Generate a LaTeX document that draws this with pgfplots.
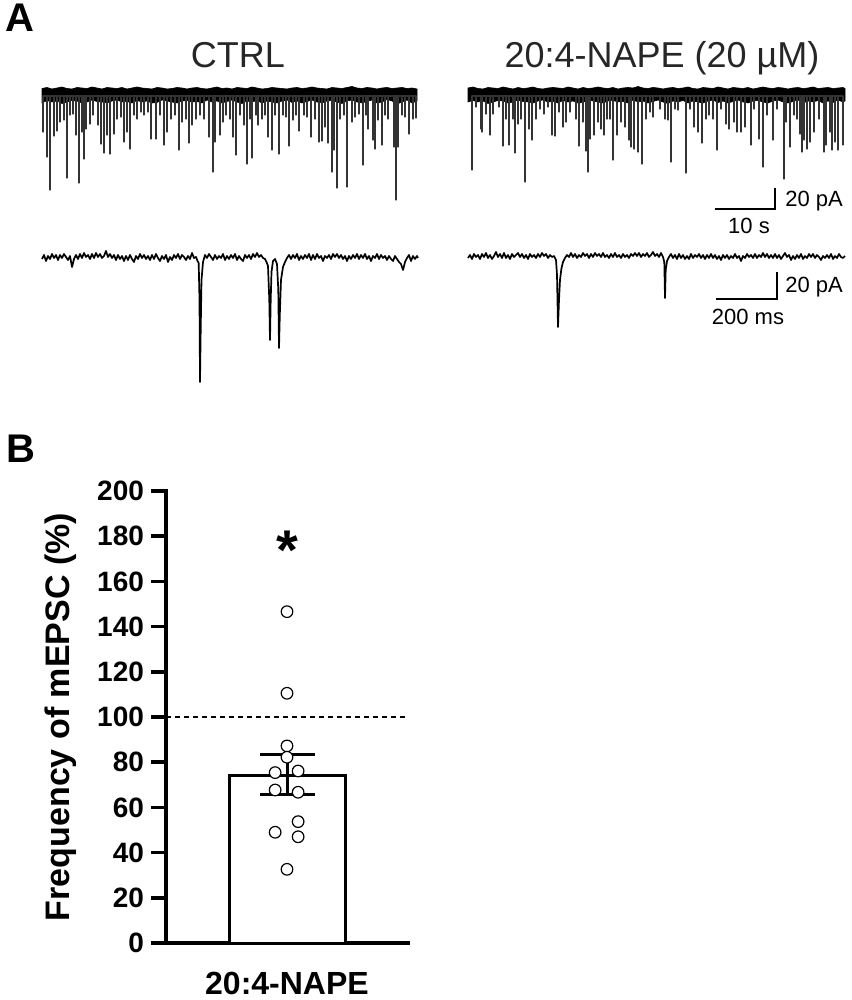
\documentclass[border=0pt]{standalone}
\usepackage{pgfplots}
\pgfplotsset{compat=1.18}
\usepackage{fontspec}
\setmainfont{Liberation Sans}
\begin{document}
\begin{tikzpicture}
\path[use as bounding box] (0pt,0pt) rectangle (425.5pt,500pt);
% ---------------- Panel A (pixel coordinates) ----------------
\begin{axis}[at={(0pt,0pt)}, anchor=south west, scale only axis,
  width=425.5pt, height=500pt, xmin=0, xmax=851, ymin=0, ymax=1000,
  y dir=reverse, hide axis, clip=false]
% CTRL long trace: noise band
\addplot[fill=black, draw=black, line width=0.3pt] coordinates {
(42,88.5)(47,87.5)(52,89)(57,88)(62,87)(67,88.5)(72,89)(77,87.5)(82,88)(87,88.5)(92,87)(97,88)(102,89)(107,87.5)(112,88)(117,88.5)(122,87.5)(127,89)(132,88)(137,87)
(142,88)(147,88.5)(152,89)(157,87.5)(162,88)(167,89)(172,88.5)(177,87.5)(182,88)(187,89)(192,88)(197,87.5)(202,88.5)(207,89)(212,88)(217,87)(222,88.5)(227,88)(232,89)(237,87.5)
(242,88)(247,88.5)(252,87)(257,88)(262,89)(267,88.5)(272,87.5)(277,88)(282,88.5)(287,89)(292,88)(297,87.5)(302,88.5)(307,88)(312,87)(317,88)(322,88.5)(327,89)(332,87.5)(337,88)
(342,88.5)(347,87.5)(352,86.5)(357,88)(362,88.5)(367,87.5)(372,88)(377,89)(382,88)(387,87.5)(392,88.5)(397,88)(402,87.5)(407,88.5)(412,88)(417,89)
(417,101)(412,103)(407,100)(402,102)(397,104)(392,101)(387,99.5)(382,102)(377,103)(372,100)(367,101.5)(362,103)(357,102)(352,100)(347,101)(342,103.5)(337,102)(332,100.5)(327,101)(322,103)
(317,102)(312,100)(307,101.5)(302,103)(297,101)(292,102.5)(287,100)(282,101)(277,103)(272,102)(267,101)(262,103)(257,100.5)(252,102)(247,101)(242,103.5)(237,102)(232,100)(227,101.5)(222,103)
(217,101)(212,102)(207,100)(202,103)(197,101.5)(192,102)(187,100.5)(182,101)(177,103)(172,102)(167,101)(162,100)(157,102.5)(152,103)(147,101)(142,102)(137,100.5)(132,103)(127,101.5)(122,102)
(117,100)(112,101)(107,103)(102,102)(97,101.5)(92,100)(87,102)(82,103)(77,101)(72,100.5)(67,102)(62,103.5)(57,101)(52,102)(47,100.5)(42,103)(42,88.5)};
% CTRL long trace: events
\addplot[black!80, line width=0.55pt, line join=round] coordinates {
(43,96)(43,132)(43,96)(47,96)(47,157)(47,96)(50,96)(50,190)(50,96)(54,96)(54,136)(54,96)(57,96)(57,131)(57,96)(60,96)(60,122)(60,96)(64,96)(64,120)(64,96)
(67,96)(67,178)(67,96)(70,96)(70,115)(70,96)(73,96)(73,114)(73,96)(76,96)(76,135)(76,96)(79,96)(79,183)(79,96)(82,96)(82,132)(82,96)(84,96)(84,159)(84,96)
(86,96)(86,129)(86,96)(90,96)(90,124)(90,96)(93,96)(93,115)(93,96)(98,96)(98,125)(98,96)(101,96)(101,144)(101,96)(104,96)(104,153)(104,96)(107,96)(107,135)(107,96)
(110,96)(110,154)(110,96)(114,96)(114,134)(114,96)(117,96)(117,119)(117,96)(121,96)(121,117)(121,96)(124,96)(124,142)(124,96)(127,96)(127,132)(127,96)(130,96)(130,149)(130,96)
(134,96)(134,115)(134,96)(137,96)(137,119)(137,96)(141,96)(141,112)(141,96)(144,96)(144,115)(144,96)(148,96)(148,112)(148,96)(151,96)(151,139)(151,96)(156,96)(156,139)(156,96)
(160,96)(160,115)(160,96)(164,96)(164,145)(164,96)(167,96)(167,132)(167,96)(171,96)(171,119)(171,96)(175,96)(175,115)(175,96)(179,96)(179,150)(179,96)(182,96)(182,122)(182,96)
(186,96)(186,119)(186,96)(189,96)(189,143)(189,96)(192,96)(192,125)(192,96)(196,96)(196,119)(196,96)(200,96)(200,115)(200,96)(204,96)(204,119)(204,96)(209,96)(209,137)(209,96)
(213,96)(213,172)(213,96)(215,96)(215,142)(215,96)(220,96)(220,135)(220,96)(223,96)(223,122)(223,96)(226,96)(226,115)(226,96)(230,96)(230,119)(230,96)(233,96)(233,137)(233,96)
(236,96)(236,155)(236,96)(240,96)(240,115)(240,96)(244,96)(244,125)(244,96)(247,96)(247,164)(247,96)(250,96)(250,119)(250,96)(252,96)(252,158)(252,96)(256,96)(256,115)(256,96)
(258,96)(258,125)(258,96)(262,96)(262,119)(262,96)(265,96)(265,115)(265,96)(268,96)(268,137)(268,96)(272,96)(272,150)(272,96)(275,96)(275,115)(275,96)(279,96)(279,154)(279,96)
(283,96)(283,115)(283,96)(286,96)(286,117)(286,96)(289,96)(289,146)(289,96)(293,96)(293,120)(293,96)(296,96)(296,115)(296,96)(299,96)(299,131)(299,96)(304,96)(304,115)(304,96)
(307,96)(307,117)(307,96)(311,96)(311,137)(311,96)(315,96)(315,119)(315,96)(319,96)(319,142)(319,96)(322,96)(322,141)(322,96)(325,96)(325,127)(325,96)(328,96)(328,143)(328,96)
(332,96)(332,172)(332,96)(334,96)(334,150)(334,96)(337,96)(337,188)(337,96)(340,96)(340,119)(340,96)(344,96)(344,115)(344,96)(347,96)(347,187)(347,96)(352,96)(352,122)(352,96)
(355,96)(355,117)(355,96)(359,96)(359,114)(359,96)(363,96)(363,165)(363,96)(366,96)(366,115)(366,96)(368,96)(368,129)(368,96)(373,96)(373,140)(373,96)(375,96)(375,149)(375,96)
(378,96)(378,120)(378,96)(382,96)(382,145)(382,96)(385,96)(385,115)(385,96)(388,96)(388,119)(388,96)(394,96)(394,147)(394,96)(396,96)(396,200)(396,96)(398,96)(398,147)(398,96)
(402,96)(402,115)(402,96)(405,96)(405,117)(405,96)(409,96)(409,134)(409,96)(413,96)(413,119)(413,96)(416,96)(416,118)(416,96)};
% NAPE long trace: noise band
\addplot[fill=black, draw=black, line width=0.3pt] coordinates {
(468,88)(473,87)(478,88.5)(483,89)(488,87.5)(493,88)(498,88.5)(503,87)(508,88)(513,89)(518,87.5)(523,88.5)(528,88)(533,87)(538,88.5)(543,89)(548,88)(553,87.5)(558,88)(563,88.5)
(568,87)(573,88)(578,89)(583,87.5)(588,88.5)(593,88)(598,87)(603,88)(608,88.5)(613,87.5)(618,89)(623,88)(628,87.5)(633,88)(638,86.5)(643,88)(648,88.5)(653,87.5)(658,88)(663,89)
(668,88)(673,87.5)(678,88.5)(683,88)(688,87)(693,88.5)(698,89)(703,87.5)(708,88)(713,88.5)(718,87)(723,88)(728,89)(733,87.5)(738,88)(743,88.5)(748,87.5)(753,89)(758,88)(763,87)
(768,88)(773,88.5)(778,87.5)(783,88)(788,89)(793,88)(798,87.5)(803,88.5)(808,88)(813,87)(818,88.5)(823,88)(828,87.5)(833,88.5)(838,88)(843,87.5)(845,88.5)
(845,101)(843,102)(838,100)(833,102.5)(828,101)(823,103)(818,100.5)(813,102)(808,101)(803,103)(798,100)(793,101.5)(788,103)(783,102)(778,100)(773,101)(768,103)(763,102)(758,100.5)(753,101)
(748,103)(743,102)(738,100)(733,101.5)(728,103)(723,101)(718,102.5)(713,100)(708,101)(703,103)(698,102)(693,101)(688,103)(683,100.5)(678,102)(673,101)(668,103.5)(663,102)(658,100)(653,101.5)
(648,103)(643,101)(638,102)(633,100)(628,103)(623,101.5)(618,102)(613,100.5)(608,101)(603,103)(598,102)(593,101)(588,100)(583,102.5)(578,103)(573,101)(568,102)(563,100.5)(558,103)(553,101.5)
(548,102)(543,100)(538,101)(533,103)(528,102)(523,101.5)(518,100)(513,102)(508,103)(503,101)(498,100.5)(493,102)(488,103.5)(483,101)(478,102)(473,100.5)(468,102)(468,88)};
% NAPE long trace: events
\addplot[black!80, line width=0.55pt, line join=round] coordinates {
(472,96)(472,170)(472,96)(476,96)(476,107)(476,96)(481,96)(481,129)(481,96)(482,96)(482,132)(482,96)(486,96)(486,114)(486,96)(490,96)(490,135)(490,96)(493,96)(493,114)(493,96)
(499,96)(499,107)(499,96)(503,96)(503,146)(503,96)(506,96)(506,119)(506,96)(509,96)(509,145)(509,96)(513,96)(513,119)(513,96)(515,96)(515,153)(515,96)(518,96)(518,124)(518,96)
(521,96)(521,119)(521,96)(525,96)(525,182)(525,96)(529,96)(529,129)(529,96)(532,96)(532,140)(532,96)(536,96)(536,119)(536,96)(540,96)(540,109)(540,96)(544,96)(544,114)(544,96)
(548,96)(548,107)(548,96)(552,96)(552,135)(552,96)(555,96)(555,136)(555,96)(559,96)(559,112)(559,96)(563,96)(563,127)(563,96)(566,96)(566,122)(566,96)(570,96)(570,112)(570,96)
(576,96)(576,119)(576,96)(579,96)(579,146)(579,96)(583,96)(583,122)(583,96)(586,96)(586,151)(586,96)(588,96)(588,172)(588,96)(590,96)(590,139)(590,96)(594,96)(594,135)(594,96)
(598,96)(598,122)(598,96)(601,96)(601,129)(601,96)(604,96)(604,135)(604,96)(607,96)(607,119)(607,96)(610,96)(610,119)(610,96)(613,96)(613,160)(613,96)(617,96)(617,135)(617,96)
(621,96)(621,122)(621,96)(625,96)(625,127)(625,96)(629,96)(629,140)(629,96)(631,96)(631,147)(631,96)(634,96)(634,149)(634,96)(638,96)(638,152)(638,96)(642,96)(642,164)(642,96)
(646,96)(646,119)(646,96)(650,96)(650,112)(650,96)(653,96)(653,117)(653,96)(660,96)(660,109)(660,96)(665,96)(665,119)(665,96)(668,96)(668,120)(668,96)(671,96)(671,162)(671,96)
(675,96)(675,109)(675,96)(678,96)(678,110)(678,96)(686,96)(686,173)(686,96)(690,96)(690,109)(690,96)(694,96)(694,127)(694,96)(698,96)(698,132)(698,96)(702,96)(702,143)(702,96)
(706,96)(706,119)(706,96)(709,96)(709,115)(709,96)(713,96)(713,119)(713,96)(717,96)(717,150)(717,96)(721,96)(721,109)(721,96)(726,96)(726,124)(726,96)(729,96)(729,129)(729,96)
(734,96)(734,122)(734,96)(737,96)(737,132)(737,96)(741,96)(741,132)(741,96)(745,96)(745,127)(745,96)(751,96)(751,145)(751,96)(754,96)(754,109)(754,96)(759,96)(759,139)(759,96)
(763,96)(763,167)(763,96)(767,96)(767,115)(767,96)(773,96)(773,140)(773,96)(777,96)(777,109)(777,96)(784,96)(784,179)(784,96)(786,96)(786,122)(786,96)(790,96)(790,147)(790,96)
(794,96)(794,115)(794,96)(797,96)(797,119)(797,96)(800,96)(800,134)(800,96)(802,96)(802,152)(802,96)(804,96)(804,140)(804,96)(807,96)(807,149)(807,96)(810,96)(810,142)(810,96)
(814,96)(814,132)(814,96)(819,96)(819,119)(819,96)(824,96)(824,152)(824,96)(826,96)(826,145)(826,96)(830,96)(830,132)(830,96)(832,96)(832,150)(832,96)(835,96)(835,142)(835,96)
(838,96)(838,150)(838,96)(843,96)(843,145)(843,96)};
% CTRL expanded trace
\addplot[black, line width=0.85pt, line join=round] coordinates {
(42,259)(44,255)(46,261)(48,256)(50,259)(52,254)(54,258)(56,255)(58,260)(60,255)(62,258)(64,254)(66,257)(68,260)(70,256)(72,267)(74,259)(76,255)(78,259)(80,254)
(82,258)(84,253)(86,257)(88,255)(90,259)(92,254)(94,258)(96,253)(98,257)(100,254)(102,258)(104,256)(106,251)(108,257)(110,254)(112,258)(114,255)(116,260)(118,255)(120,259)
(122,256)(124,261)(126,256)(128,260)(130,255)(132,259)(134,262)(136,256)(138,259)(140,254)(142,258)(144,255)(146,259)(148,256)(150,260)(152,255)(154,259)(156,254)(158,258)(160,261)
(162,256)(164,259)(166,255)(168,262)(170,257)(172,260)(174,255)(176,258)(178,254)(180,259)(182,255)(184,257)(186,260)(188,256)(190,259)(192,253)(194,258)(196,257)(197.5,261)(198.7,263)
(199.5,300)(200,382)(200.7,330)(201.5,280)(203,262)(205,255)(207,258)(209,254)(211,257)(213,260)(215,255)(217,259)(219,256)(221,258)(223,254)(225,260)(227,256)(229,259)(231,255)(233,258)
(235,254)(237,260)(239,256)(241,259)(243,261)(245,255)(247,258)(249,255)(251,259)(253,254)(255,257)(257,253)(259,257)(261,255)(263,258)(265,259)(266.5,262)(268,266)(269.3,300)(270,340)
(270.7,300)(271.5,272)(273,261)(275,259)(277,264)(278.3,290)(279,348)(279.8,315)(281,280)(283,267)(285,262)(287,258)(289,255)(291,259)(293,255)(295,258)(297,254)(299,260)(301,256)(303,259)
(305,255)(307,258)(309,254)(311,260)(313,255)(315,259)(317,254)(319,258)(321,256)(323,261)(325,256)(327,258)(329,255)(331,259)(333,254)(335,257)(337,254)(339,258)(341,255)(343,259)
(345,256)(347,261)(349,256)(351,259)(353,255)(355,258)(357,254)(359,259)(361,255)(363,258)(365,254)(367,259)(369,256)(371,261)(373,256)(375,258)(377,254)(379,259)(381,255)(383,258)
(385,256)(387,260)(389,256)(391,259)(393,261)(395,256)(397,259)(399,262)(401,264)(403,270)(405,262)(407,258)(409,255)(411,261)(413,256)(415,259)(417,256)(418,258)};
% NAPE expanded trace
\addplot[black, line width=0.85pt, line join=round] coordinates {
(468,258)(470,255)(472,259)(474,254)(476,257)(478,255)(480,259)(482,254)(484,257)(486,253)(488,258)(490,255)(492,259)(494,256)(496,252)(498,257)(500,254)(502,258)(504,253)(506,258)
(508,255)(510,259)(512,254)(514,257)(516,255)(518,253)(520,257)(522,254)(524,258)(526,255)(528,259)(530,254)(532,257)(534,255)(536,258)(538,254)(540,257)(542,253)(544,256)(546,254)
(548,258)(550,255)(552,257)(554,256)(556,260)(557,275)(558,327)(559,300)(560,280)(561.5,268)(563,262)(565,258)(567,255)(569,257)(571,253)(573,257)(575,254)(577,258)(579,255)(581,257)
(583,253)(585,256)(587,254)(589,258)(591,254)(593,257)(595,253)(597,256)(599,254)(601,257)(603,253)(605,257)(607,255)(609,258)(611,254)(613,257)(615,253)(617,257)(619,255)(621,258)
(623,254)(625,257)(627,255)(629,258)(631,254)(633,256)(635,253)(637,256)(639,253)(641,257)(643,254)(645,256)(647,253)(649,257)(651,255)(653,252)(655,256)(657,254)(659,257)(661,253)
(663,257)(664.3,262)(665,298)(665.7,270)(667,261)(669,257)(671,254)(673,258)(675,255)(677,259)(679,254)(681,258)(683,255)(685,259)(687,256)(689,259)(691,254)(693,258)(695,255)(697,257)
(699,254)(701,258)(703,255)(705,259)(707,255)(709,258)(711,254)(713,258)(715,255)(717,259)(719,256)(721,260)(723,255)(725,258)(727,255)(729,259)(731,256)(733,258)(735,254)(737,258)
(739,256)(741,261)(743,256)(745,258)(747,254)(749,257)(751,255)(753,258)(755,254)(757,258)(759,255)(761,257)(763,253)(765,257)(767,254)(769,258)(771,255)(773,258)(775,254)(777,258)
(779,255)(781,259)(783,256)(785,253)(787,257)(789,255)(791,260)(793,256)(795,259)(797,255)(799,258)(801,254)(803,259)(805,256)(807,258)(809,254)(811,257)(813,254)(815,258)(817,255)
(819,257)(821,260)(823,256)(825,258)(827,255)(829,258)(831,254)(833,259)(835,256)(837,258)(839,254)(841,257)(843,258)(845,256)};
% scale bars
\addplot[black, line width=1pt] coordinates {(715,209)(775,209)(775,188)};
\addplot[black, line width=1pt] coordinates {(716,299)(777,299)(777,272)};
% texts
\node[anchor=base west, font=\bfseries\fontsize{20}{20}\selectfont, inner sep=0pt] at (axis cs:5,32) {A};
\node[anchor=base west, font=\bfseries\fontsize{20}{20}\selectfont, inner sep=0pt] at (axis cs:6,463) {B};
\node[anchor=base, font=\fontsize{18}{18}\selectfont, inner sep=0pt, text=black!85] at (axis cs:238,68) {CTRL};
\node[anchor=base, font=\fontsize{18}{18}\selectfont, inner sep=0pt, text=black!85] at (axis cs:662,68) {20:4-NAPE (20 µM)};
\node[anchor=base west, font=\fontsize{11}{11}\selectfont, inner sep=0pt] at (axis cs:785,207) {20 pA};
\node[anchor=base, font=\fontsize{11}{11}\selectfont, inner sep=0pt] at (axis cs:749,234) {10 s};
\node[anchor=base west, font=\fontsize{11}{11}\selectfont, inner sep=0pt] at (axis cs:785,293) {20 pA};
\node[anchor=base, font=\fontsize{11}{11}\selectfont, inner sep=0pt] at (axis cs:748,325) {200 ms};
\end{axis}
% ---------------- Panel B ----------------
\begin{axis}[at={(83pt,28.5pt)}, anchor=south west, scale only axis,
  width=121pt, height=226pt, xmin=0, xmax=2, ymin=0, ymax=200,
  axis x line=bottom, axis y line=left,
  axis line style={line width=1.75pt, -, line cap=rect},
  ytick={0,20,...,200}, xtick={1}, xticklabels={20:4-NAPE},
  ytick pos=left, tick align=outside, major tick length=7.5pt,
  y tick style={line width=1.75pt, black},
  x tick style={draw=none},
  /pgf/number format/assume math mode=true,
  yticklabel style={font=\bfseries\fontsize{14}{14}\selectfont},
  xticklabel style={font=\bfseries\fontsize{16}{16}\selectfont, yshift=-3.5pt},
  ylabel={Frequency of mEPSC (\%)},
  every axis y label/.style={at={(axis description cs:-0.397,0.5)}, rotate=90, anchor=base, font=\bfseries\fontsize{17}{17}\selectfont},
  clip=false]
\addplot[dash pattern=on 2.5pt off 2pt, line width=0.6pt] coordinates {(0,100)(2,100)};
\addplot[ybar, bar width=58pt, fill=white, draw=black, line width=1.5pt] coordinates {(1,74)};
\addplot[black, line width=1.5pt] coordinates {(1,65.5)(1,83.5)};
\addplot[black, line width=1.5pt] coordinates {(0.775,83.5)(1.235,83.5)};
\addplot[black, line width=1.5pt] coordinates {(0.775,65.5)(1.235,65.5)};
\addplot[only marks, mark=*, mark size=2.9pt, mark options={fill=white, draw=black, line width=0.6pt}] coordinates {
(1,146.6)(1,110.5)(1,87.2)(1,82.2)(0.902,75.4)(1.092,76.1)(0.902,67.7)(1.092,66.7)(1.092,53.7)(0.902,49)(1.092,47)(1,32.6)};
\node[anchor=north, inner sep=0pt, font=\bfseries\fontsize{28}{28}\selectfont] at (axis cs:1,182.7) {*};
\end{axis}
\end{tikzpicture}
\end{document}
